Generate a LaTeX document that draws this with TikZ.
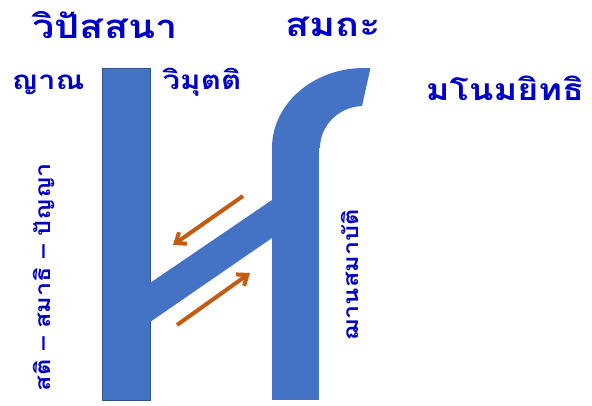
\documentclass[tikz,border=0pt]{standalone}
\usepackage{fontspec}
\newfontfamily\thaifont[Script=Thai]{Loma}
\usepackage{xcolor}
\usetikzlibrary{arrows.meta}
\definecolor{barblue}{HTML}{4472C4}
\definecolor{barline}{HTML}{2F528F}
\definecolor{flowor}{HTML}{C55A11}
\definecolor{txtblue}{HTML}{0000C8}
\newcommand{\wide}[1]{\scalebox{1.2}[1]{#1}}
\tikzset{
  label/.style={text=txtblue,font=\thaifont\bfseries\fontsize{26}{30}\selectfont,inner sep=0pt},
  title/.style={label,font=\thaifont\bfseries\fontsize{33}{38}\selectfont},
  flow/.style={flowor,line width=4pt,-{Straight Barb[length=9pt,width=14pt,line width=4pt]}}
}

\begin{document}
\begin{tikzpicture}[x=1pt,y=1pt]
  \useasboundingbox (0,0) rectangle (592,405);

  % Pillars
  \fill[barblue,draw=barline,line width=0.6pt] (102,5) rectangle (150,337);
  \fill[barblue] (272,5) rectangle (319,257);

  % Bend on top of the right pillar
  \fill[barblue] (272,257) arc[start angle=180,end angle=86,x radius=92,y radius=80]
    -- (362,299) arc[start angle=92.6,end angle=180,x radius=44,y radius=42] -- cycle;

  % Cross bar
  \fill[barblue] (150,122) -- (272,205) -- (272,167) -- (150,83) -- cycle;

  % Flows
  \coordinate (fa) at (243,209);
  \coordinate (fb) at (173,160);
  \coordinate (fc) at (177,80);
  \coordinate (fd) at (250,132);
  \draw[flow] (fa) -- (fb);
  \draw[flow] (fc) -- (fd);

  % Labels
  \node[title] (vipassana) at (105,380) {\wide{วิปัสสนา}};
  \node[title] (samatha) at (333,378) {\wide{สมถะ}};
  \node[label] (nana) at (48,320) {\wide{ญาณ}};
  \node[label] (vimutti) at (202,323) {\wide{วิมุตติ}};
  \node[label,font=\thaifont\bfseries\fontsize{30}{34}\selectfont] (manomayi) at (505,317) {\wide{มโนมยิทธิ}};
  \node[label,rotate=90,font=\thaifont\bfseries\fontsize{21}{25}\selectfont] (sikkha) at (44,128) {\wide{สติ – สมาธิ – ปัญญา}};
  \node[label,rotate=90,font=\thaifont\bfseries\fontsize{21}{25}\selectfont] (jhana) at (350,130) {\wide{ฌานสมาบัติ}};
\end{tikzpicture}
\end{document}
